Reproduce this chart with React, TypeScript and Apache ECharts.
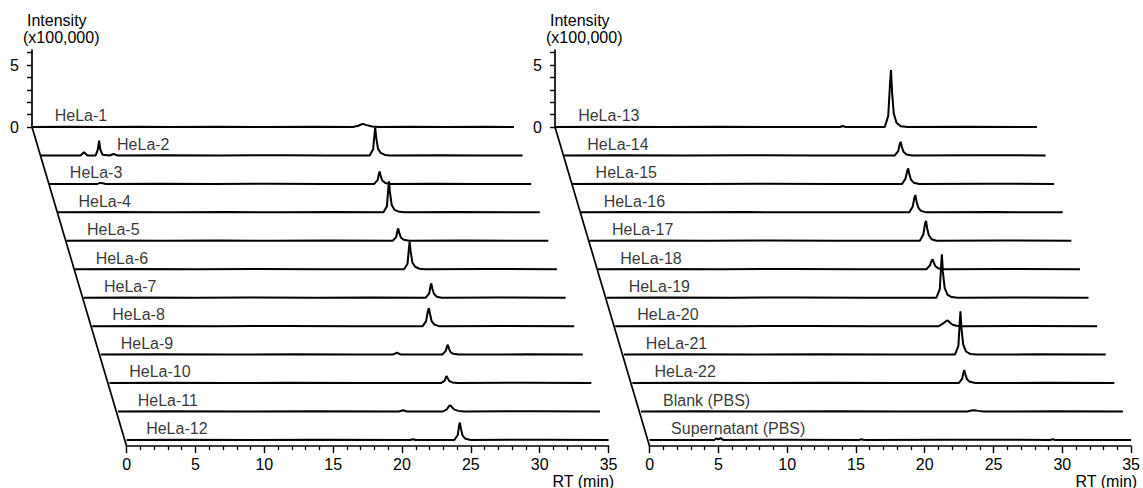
import React, { useEffect, useRef } from "react";
import * as echarts from "echarts";

// ---------- data ----------
const leftNames = ["HeLa-1", "HeLa-2", "HeLa-3", "HeLa-4", "HeLa-5", "HeLa-6", "HeLa-7", "HeLa-8", "HeLa-9", "HeLa-10", "HeLa-11", "HeLa-12"];
const rightNames = ["HeLa-13", "HeLa-14", "HeLa-15", "HeLa-16", "HeLa-17", "HeLa-18", "HeLa-19", "HeLa-20", "HeLa-21", "HeLa-22", "Blank (PBS)", "Supernatant (PBS)"];

// label anchor (RT, min) for each trace name
const leftLabelX = [1.65, 5.55, 1.5, 1.5, 1.5, 1.5, 1.48, 1.46, 1.45, 1.44, 1.43, 1.42];
const rightLabelX = [1.68, 1.72, 1.7, 1.66, 1.64, 1.62, 1.6, 1.6, 1.6, 1.6, 1.6, 1.56];
const labelY = 0.9;

const xTickStep = 5;
const yTickValues = [0, 1, 2, 3, 4, 5, 6];
const yLabelValues = [0, 5];

// chromatograms: [RT (min), intensity (x100,000)]
const hela1 = [[0, 0], [2.5, 0.02], [5, 0], [7.8, 0.03], [10, 0], [13.5, 0.02], [17, 0], [20.5, 0.03], [23.3, 0], [23.7, 0.1], [24.0, 0.25], [24.3, 0.15], [24.7, 0.04], [25.2, 0], [27.5, 0.03], [30, 0], [33, 0.02], [35, 0]];
const hela2 = [[0, 0], [2.9, 0], [3.15, 0.25], [3.4, 0], [4.0, 0], [4.15, 0.45], [4.25, 1.2], [4.33, 0.5], [4.5, 0.05], [5.0, 0], [5.3, 0.12], [5.6, 0], [9, 0.02], [13, 0], [17.5, 0.02], [21, 0], [23.9, 0], [24.15, 0.5], [24.25, 1.7], [24.3, 2.25], [24.38, 1.4], [24.5, 0.55], [24.7, 0.2], [25.0, 0.04], [25.4, 0], [29, 0.02], [32, 0], [35, 0]];
const hela3 = [[0, 0], [3.5, 0], [3.7, 0.08], [3.9, 0.05], [4.1, 0], [8, 0.02], [12, 0], [16, 0.02], [20, 0], [23.6, 0], [23.85, 0.3], [23.95, 0.85], [24.0, 1.0], [24.08, 0.6], [24.2, 0.25], [24.4, 0.08], [24.8, 0], [28, 0.02], [31, 0], [35, 0]];
const hela4 = [[0, 0], [4, 0.02], [8, 0], [12.5, 0.02], [16, 0], [20, 0.02], [23.65, 0], [23.9, 0.5], [24.0, 1.9], [24.05, 2.5], [24.12, 1.6], [24.25, 0.6], [24.45, 0.2], [24.8, 0.04], [25.2, 0], [29, 0.02], [35, 0]];
const hela5 = [[0, 0], [3, 0.02], [7, 0], [11, 0.02], [15, 0], [19, 0.02], [23.7, 0], [23.95, 0.3], [24.05, 0.85], [24.1, 1.0], [24.18, 0.6], [24.3, 0.25], [24.5, 0.08], [24.9, 0], [29, 0.02], [35, 0]];
const hela6 = [[0, 0], [4, 0.02], [9, 0], [13, 0.02], [18, 0], [23.9, 0], [24.15, 0.45], [24.25, 1.7], [24.3, 2.2], [24.38, 1.4], [24.5, 0.55], [24.7, 0.2], [25.0, 0.04], [25.4, 0], [30, 0.02], [35, 0]];
const hela7 = [[0, 0], [3.5, 0.02], [8, 0], [12, 0.02], [17, 0], [21, 0.02], [24.85, 0], [25.1, 0.35], [25.2, 1.0], [25.25, 1.15], [25.33, 0.7], [25.45, 0.3], [25.65, 0.08], [26.0, 0], [30, 0.02], [35, 0]];
const hela8 = [[0, 0], [5, 0.02], [9, 0], [14, 0.02], [19, 0], [24.0, 0], [24.25, 0.4], [24.38, 1.25], [24.45, 1.45], [24.53, 1.0], [24.65, 0.4], [24.85, 0.12], [25.2, 0], [30, 0.02], [35, 0]];
const hela9 = [[0, 0], [4, 0.02], [9, 0], [14, 0.02], [18, 0], [21.2, 0], [21.5, 0.15], [21.8, 0], [24.8, 0], [25.05, 0.3], [25.15, 0.7], [25.2, 0.8], [25.28, 0.5], [25.4, 0.2], [25.6, 0.06], [26.0, 0], [31, 0.02], [35, 0]];
const hela10 = [[0, 0], [4, 0.02], [8.5, 0], [13, 0.02], [18, 0], [24.1, 0], [24.35, 0.2], [24.45, 0.5], [24.5, 0.55], [24.58, 0.35], [24.7, 0.15], [24.9, 0.05], [25.3, 0], [30, 0.02], [35, 0]];
const hela11 = [[0, 0], [4, 0.02], [9, 0], [14, 0.02], [20.4, 0], [20.7, 0.1], [21.0, 0], [23.6, 0], [23.9, 0.2], [24.05, 0.45], [24.15, 0.5], [24.25, 0.35], [24.45, 0.15], [24.7, 0.05], [25.1, 0], [30, 0.02], [35, 0]];
const hela12 = [[0, 0], [4, 0.02], [9, 0], [14, 0.02], [20.6, 0], [20.8, 0.06], [21.0, 0], [23.8, 0], [24.05, 0.4], [24.15, 1.2], [24.2, 1.4], [24.28, 0.9], [24.4, 0.35], [24.6, 0.1], [25.0, 0], [30, 0.02], [35, 0]];

const hela13 = [[0, 0], [4, 0.02], [8, 0], [12, 0.02], [16, 0], [20.7, 0], [20.9, 0.08], [21.1, 0], [23.95, 0], [24.2, 0.9], [24.33, 3.5], [24.4, 4.6], [24.48, 2.8], [24.6, 1.1], [24.8, 0.35], [25.1, 0.06], [25.6, 0], [30, 0.02], [35, 0]];
const hela14 = [[0, 0], [4, 0.02], [9, 0], [13.5, 0.02], [18, 0], [24.05, 0], [24.3, 0.35], [24.42, 0.95], [24.48, 1.1], [24.56, 0.7], [24.68, 0.3], [24.9, 0.08], [25.3, 0], [30, 0.02], [35, 0]];
const hela15 = [[0, 0], [4, 0.02], [9, 0], [14, 0.02], [19, 0], [23.95, 0], [24.2, 0.4], [24.33, 1.05], [24.4, 1.25], [24.48, 0.8], [24.6, 0.35], [24.8, 0.1], [25.2, 0], [30, 0.02], [35, 0]];
const hela16 = [[0, 0], [3.5, 0.02], [8, 0], [12, 0.02], [17, 0], [23.85, 0], [24.1, 0.45], [24.23, 1.2], [24.3, 1.4], [24.38, 0.9], [24.5, 0.4], [24.7, 0.12], [25.1, 0], [30, 0.02], [35, 0]];
const hela17 = [[0, 0], [4, 0.02], [8.5, 0], [13, 0.02], [18, 0], [24.0, 0], [24.25, 0.5], [24.38, 1.4], [24.45, 1.6], [24.53, 1.0], [24.65, 0.45], [24.85, 0.12], [25.2, 0], [30, 0.02], [35, 0]];
const hela18 = [[0, 0], [4, 0.02], [9, 0], [14, 0.02], [19, 0], [23.85, 0], [24.1, 0.3], [24.23, 0.7], [24.3, 0.8], [24.38, 0.55], [24.5, 0.25], [24.7, 0.08], [25.1, 0], [30, 0.02], [35, 0]];
const hela19 = [[0, 0], [4, 0.02], [9, 0], [14, 0.02], [19, 0], [23.95, 0], [24.2, 0.7], [24.3, 2.7], [24.35, 3.5], [24.42, 2.1], [24.55, 0.8], [24.75, 0.25], [25.05, 0.05], [25.5, 0], [30, 0.02], [35, 0]];
const hela20 = [[0, 0], [4, 0.02], [9, 0], [14, 0.02], [19, 0], [23.5, 0], [23.85, 0.25], [24.05, 0.42], [24.15, 0.45], [24.3, 0.3], [24.5, 0.12], [24.8, 0.03], [25.2, 0], [30, 0.02], [35, 0]];
const hela21 = [[0, 0], [4, 0.02], [9, 0], [14, 0.02], [19, 0], [24.05, 0], [24.3, 0.7], [24.4, 2.7], [24.45, 3.5], [24.52, 2.1], [24.65, 0.8], [24.85, 0.25], [25.15, 0.05], [25.6, 0], [30, 0.02], [35, 0]];
const hela22 = [[0, 0], [4, 0.02], [9, 0], [14, 0.02], [19, 0], [23.7, 0], [23.95, 0.35], [24.05, 0.9], [24.1, 1.05], [24.18, 0.7], [24.3, 0.3], [24.5, 0.1], [24.9, 0], [30, 0.02], [35, 0]];
const blankPbs = [[0, 0], [4, 0.02], [9, 0], [14, 0.02], [19, 0], [23.7, 0], [24.0, 0.08], [24.2, 0.1], [24.5, 0.05], [24.9, 0], [30, 0.02], [35, 0]];
const supernatantPbs = [[0, 0], [4.7, 0], [4.85, 0.12], [5.0, 0.05], [5.15, 0.15], [5.35, 0], [10, 0.02], [15.2, 0], [15.4, 0.05], [15.6, 0], [22, 0.02], [29.1, 0], [29.3, 0.05], [29.5, 0], [35, 0]];

const leftTraces = [hela1, hela2, hela3, hela4, hela5, hela6, hela7, hela8, hela9, hela10, hela11, hela12];
const rightTraces = [hela13, hela14, hela15, hela16, hela17, hela18, hela19, hela20, hela21, hela22, blankPbs, supernatantPbs];

// ---------- layout ----------
const FONT = "'Liberation Sans', Arial, Helvetica, sans-serif";
const W = 1143;
const H = 488;
const X0 = [32, 555];
const DX = 8.6;
const BASE0 = 127;
const DY = 28.45;
const PX_MIN = 13.77;
const PX_UNIT = 12.4;
const X_MAX = 35;
const Y_MAX = 6.2;
const Y_MIN = -0.5;

function buildOption() {
  const grid: any[] = [];
  const xAxis: any[] = [];
  const yAxis: any[] = [];
  const series: any[] = [];
  const graphic: any[] = [];
  const panels = [
    { names: leftNames, traces: leftTraces, lx: leftLabelX },
    { names: rightNames, traces: rightTraces, lx: rightLabelX },
  ];
  panels.forEach((p, pi) => {
    const n = p.traces.length;
    p.traces.forEach((data, i) => {
      const idx = grid.length;
      const baseline = BASE0 + i * DY;
      const ymin = i === 0 ? 0 : Y_MIN;
      const isBottom = i === n - 1;
      grid.push({
        left: X0[pi] + i * DX,
        top: baseline - Y_MAX * PX_UNIT,
        width: X_MAX * PX_MIN,
        height: (Y_MAX - ymin) * PX_UNIT,
      });
      xAxis.push({
        gridIndex: idx,
        type: "value",
        min: 0,
        max: X_MAX,
        interval: xTickStep,
        show: isBottom,
        position: "bottom",
        axisLine: { show: true, onZero: false, lineStyle: { color: "#000", width: 1.7 } },
        axisTick: { show: true, length: 7, lineStyle: { color: "#000", width: 1.4 } },
        minorTick: { show: true, splitNumber: 5, length: 4, lineStyle: { color: "#000", width: 1.3 } },
        axisLabel: { show: true, fontSize: 16, color: "#000", margin: 10, fontFamily: FONT },
        splitLine: { show: false },
      });
      yAxis.push({
        gridIndex: idx,
        type: "value",
        min: ymin,
        max: Y_MAX,
        show: i === 0,
        axisLine: { show: true, lineStyle: { color: "#000", width: 1.7 } },
        axisTick: { show: true, length: 5, customValues: yTickValues, lineStyle: { color: "#000", width: 1.4 } },
        axisLabel: { show: true, customValues: yLabelValues, fontSize: 16, color: "#000", margin: 13, fontFamily: FONT },
        splitLine: { show: false },
      });
      series.push({
        type: "line",
        xAxisIndex: idx,
        yAxisIndex: idx,
        data,
        symbol: "none",
        showSymbol: false,
        clip: false,
        silent: true,
        lineStyle: { color: "#000", width: 2 },
        z: 3,
      });
      series.push({
        type: "scatter",
        xAxisIndex: idx,
        yAxisIndex: idx,
        data: [[p.lx[i], labelY]],
        symbolSize: 0,
        silent: true,
        label: {
          show: true,
          position: "right",
          distance: 0,
          formatter: p.names[i],
          fontSize: 16,
          color: "#000",
          fontFamily: FONT,
        },
        z: 4,
      });
    });
    // slanted baseline axis joining the trace origins
    graphic.push({
      type: "line",
      shape: {
        x1: X0[pi],
        y1: BASE0,
        x2: X0[pi] + (n - 1) * DX,
        y2: BASE0 + (n - 1) * DY - Y_MIN * PX_UNIT,
      },
      style: { stroke: "#000", lineWidth: 1.7 },
      z: 10,
    });
    graphic.push({
      type: "text",
      x: X0[pi] - 5,
      y: 12,
      style: { text: "Intensity", fontSize: 16, fontFamily: FONT, fill: "#000", align: "left", verticalAlign: "top" },
    });
    graphic.push({
      type: "text",
      x: X0[pi] - 9,
      y: 29,
      style: { text: "(x100,000)", fontSize: 16, fontFamily: FONT, fill: "#000", align: "left", verticalAlign: "top" },
    });
    graphic.push({
      type: "text",
      x: X0[pi] + (n - 1) * DX + X_MAX * PX_MIN - 56,
      y: 473,
      style: { text: "RT (min)", fontSize: 16, fontFamily: FONT, fill: "#000", align: "left", verticalAlign: "top" },
    });
  });
  return {
    animation: false,
    backgroundColor: "#fff",
    grid,
    xAxis,
    yAxis,
    series,
    graphic,
  };
}

export default function App() {
  const ref = useRef<HTMLDivElement>(null);
  useEffect(() => {
    document.body.style.margin = "0";
    if (!ref.current) return;
    const chart = echarts.init(ref.current, null, { renderer: "svg" });
    chart.setOption(buildOption() as any);
    return () => chart.dispose();
  }, []);
  return <div ref={ref} style={{ position: "absolute", left: 0, top: 0, width: W, height: H }} />;
}
